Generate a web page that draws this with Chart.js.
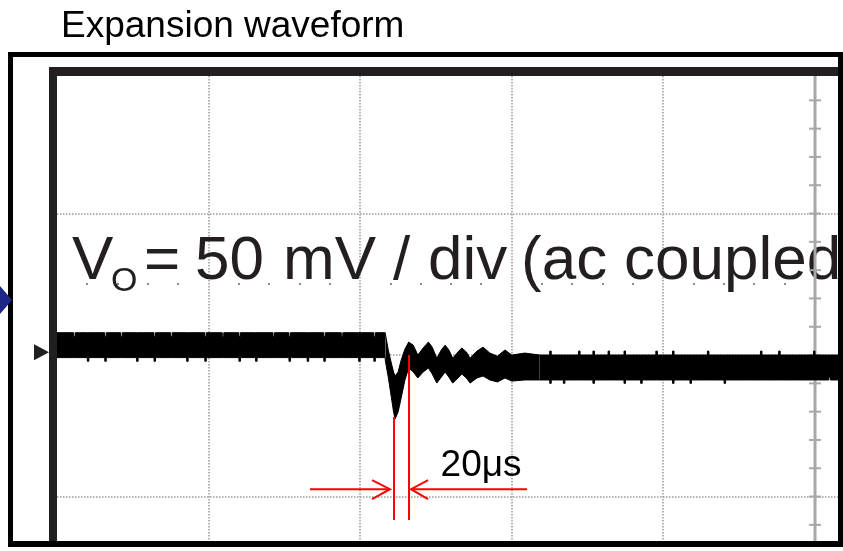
<!DOCTYPE html>
<html><head><meta charset="utf-8">
<script src="https://cdn.jsdelivr.net/npm/chart.js@4.4.1/dist/chart.umd.min.js"></script>
<style>html,body{margin:0;padding:0;background:#fff;overflow:hidden}canvas{display:block}</style>
</head><body>
<canvas id="c" width="843" height="551"></canvas>
<script>
// ---- Data (time in µs, voltage in mV, 200 µs/div, 50 mV/div) ----
const titleText = 'Expansion waveform';
const scaleText = ['V', 'O', '= 50 mV / div (ac coupled'];
const spanLabel = '20μs';

// pre-transient noise band
const leftTimes = [0, 22, 24, 40, 42, 63, 65, 84, 86, 105, 107, 128, 130, 150, 152, 171, 173, 195, 197, 218, 220, 240, 242, 262, 264, 285, 287, 306, 308, 330, 332, 352, 354, 375, 377, 398, 400, 418, 420, 433];
const leftUpper = [7.9, 6.6, 7.9, 7.9, 7.9, 6.6, 7.9, 6.6, 7.9, 7.9, 7.9, 6.6, 7.9, 6.6, 7.9, 7.9, 7.9, 6.6, 7.9, 6.6, 7.9, 6.6, 7.9, 7.9, 7.9, 6.6, 7.9, 6.6, 7.9, 7.9, 7.9, 6.6, 7.9, 6.6, 7.9, 7.9, 7.9, 6.6, 7.9, 7.8];
const leftLower = [-0.9, -0.9, -0.9, -2.2, -0.9, -2.2, -0.9, -0.9, -0.9, -2.2, -0.9, -2.2, -0.9, -0.9, -0.9, -2.2, -0.9, -2.2, -0.9, -0.9, -0.9, -2.2, -0.9, -2.2, -0.9, -0.9, -0.9, -2.2, -0.9, -2.2, -0.9, -2.2, -0.9, -0.9, -0.9, -2.2, -0.9, -2.2, -0.9, -1.8];

// transient dip and ringing
const transTimes = [433, 437, 441, 444, 446, 450, 454, 459, 464, 470, 476, 483, 490, 495, 501, 507, 512, 517, 522, 529, 534, 540, 545, 554, 562, 571, 581, 591, 600, 617, 637];
const transUpper = [7.8, 1.8, -2.8, -6.0, -7.4, -6.0, -1.8, 2.1, 4.6, 3.5, 0, 2.5, 4.6, 2.8, -1.1, 1.8, 3.5, 1.8, -1.1, 1.1, 2.5, 1.1, -1.1, 1.4, 2.8, 0.7, -0.4, 1.8, 0, 0.7, 0];
const transLower = [-1.8, -7.8, -14.8, -20.1, -22.6, -20.1, -15.2, -8.8, -4.6, -6.0, -8.1, -6.0, -4.6, -6.7, -9.9, -7.8, -6.0, -7.8, -9.9, -8.1, -6.7, -8.1, -9.9, -8.1, -7.4, -8.8, -9.5, -8.1, -9.2, -8.8, -8.8];

// post-transient noise band
const rightTimes = [637, 650, 652, 668, 670, 688, 690, 707, 709, 727, 729, 748, 750, 770, 772, 790, 792, 812, 814, 835, 837, 858, 860, 880, 882, 905, 907, 928, 930, 952, 954, 975, 977, 998, 1000, 1018, 1020, 1031];
const rightUpper = [0, 1.4, 0, 0, 0, 1.4, 0, 1.4, 0, 1.4, 0, 1.4, 0, 0, 0, 1.4, 0, 1.4, 0, 0, 0, 1.4, 0, 0, 0, 0, 0, 1.4, 0, 1.4, 0, 0, 0, 1.4, 0, 0, 0, 0];
const rightLower = [-8.8, -10.0, -8.8, -10.0, -8.8, -8.8, -8.8, -10.0, -8.8, -8.8, -8.8, -10.0, -8.8, -10.0, -8.8, -8.8, -8.8, -10.0, -8.8, -10.0, -8.8, -8.8, -8.8, -10.0, -8.8, -8.8, -8.8, -8.8, -8.8, -8.8, -8.8, -8.8, -8.8, -8.8, -8.8, -7.8, -8.8, -8.8];

// 20 µs measurement markers (µs, mV)
const markerA = [{x: 444.6, y: -21.9}, {x: 444.6, y: -58.3}];
const markerB = [{x: 464.4, y: 0}, {x: 464.4, y: -58.3}];
const arrowLeft = [{x: 333.8, y: -47.4}, {x: 439.3, y: -47.4}];
const arrowLeftHead = [{x: 415.6, y: -44.2}, {x: 439.3, y: -47.4}, {x: 415.6, y: -50.9}];
const arrowRight = [{x: 620.1, y: -47.4}, {x: 467.0, y: -47.4}];
const arrowRightHead = [{x: 489.5, y: -44.2}, {x: 467.0, y: -47.4}, {x: 489.5, y: -50.9}];
const spanLabelPos = {x: 506, y: -42.8};

// screen divisions
const timeMin = 0, timeMax = 1030.3, timeDiv = 200;
const voltMin = -65.7, voltMax = 98.6, voltDiv = 50;
const gridTimes = [200, 400, 600, 800];
const gridVolts = [-50, 0, 50];
const centerTime = 1000, minorVolt = 10, dotLevel = 25, dotStep = 40, triggerLevel = 1.0;

// ---- build ----
const pts = (t, v) => t.map((x, i) => ({x, y: v[i]}));
const onStep = (v, step) => Math.abs(v / step - Math.round(v / step)) < 1e-6;
const band = (label, data, fill, stepped) => ({
  label, data, fill, stepped, borderColor: '#000', backgroundColor: '#000',
  borderWidth: 1, pointRadius: 0, tension: 0, order: 1
});
const red = (label, data) => ({
  label, data, fill: false, borderColor: '#ff0000', borderWidth: 2,
  pointRadius: 0, tension: 0, order: 0, borderCapStyle: 'butt', borderJoinStyle: 'miter'
});

const FONT = '"Liberation Sans", Arial, Helvetica, sans-serif';

const decor = {
  id: 'decor',
  beforeDraw(chart) {
    const c = chart.ctx;
    c.save(); c.fillStyle = '#fff'; c.fillRect(0, 0, chart.width, chart.height); c.restore();
  },
  beforeDatasetsDraw(chart) {
    const c = chart.ctx, xs = chart.scales.x, ys = chart.scales.y, a = chart.chartArea;
    c.save();
    // dotted division grid
    c.strokeStyle = '#999999';
    c.lineWidth = 1.5;
    c.setLineDash([1.5, 1.5]);
    gridTimes.forEach(t => {
      const xp = Math.round(xs.getPixelForValue(t));
      c.beginPath(); c.moveTo(xp, a.top); c.lineTo(xp, a.bottom); c.stroke();
    });
    gridVolts.forEach(v => {
      const yp = Math.round(ys.getPixelForValue(v));
      c.beginPath(); c.moveTo(a.left, yp); c.lineTo(a.right, yp); c.stroke();
    });
    c.setLineDash([]);
    // sparse minor dots on the half-division line
    c.fillStyle = '#8c8c8c';
    const yd = ys.getPixelForValue(dotLevel);
    for (let t = dotStep; t < timeMax; t += dotStep) {
      if (onStep(t, timeDiv)) continue;
      const xp = xs.getPixelForValue(t);
      c.fillRect(Math.round(xp) - 1, Math.round(yd) - 1, 2, 2);
    }
    // big scale text
    c.fillStyle = '#231f20';
    c.textBaseline = 'alphabetic';
    c.font = '62px ' + FONT;
    c.fillText(scaleText[0], 72, 279);
    c.font = '34px ' + FONT;
    c.fillText(scaleText[1], 111, 291);
    c.font = '62px ' + FONT;
    const words = scaleText[2].split(' ').filter(w => w);
    const xPos = [144, 195, 283, 393, 428, 521, 624];
    words.forEach((w, i) => c.fillText(w, xPos[i], 279));
    // centre vertical axis with minor ticks
    const xc = xs.getPixelForValue(centerTime);
    c.strokeStyle = '#a8a8a8';
    c.lineWidth = 3;
    c.beginPath(); c.moveTo(xc, a.top); c.lineTo(xc, a.bottom); c.stroke();
    c.lineWidth = 2;
    for (let v = Math.ceil(voltMin / minorVolt) * minorVolt; v <= voltMax; v += minorVolt) {
      const yp = ys.getPixelForValue(v);
      c.beginPath(); c.moveTo(xc - 6, yp); c.lineTo(xc + 6, yp); c.stroke();
    }
    c.restore();
  },
  afterDatasetsDraw(chart) {
    const c = chart.ctx, xs = chart.scales.x, ys = chart.scales.y;
    c.save();
    c.fillStyle = '#000';
    c.font = '37px ' + FONT;
    c.textBaseline = 'alphabetic';
    c.fillText(spanLabel, xs.getPixelForValue(spanLabelPos.x), ys.getPixelForValue(spanLabelPos.y));
    c.restore();
  },
  afterDraw(chart) {
    const c = chart.ctx, a = chart.chartArea, ys = chart.scales.y;
    c.save();
    // inner thick frame
    c.fillStyle = '#231f20';
    c.fillRect(a.left - 8, a.top - 9, 8, a.bottom - a.top + 9);
    c.fillRect(a.left - 8, a.top - 9, a.right - a.left + 8, 9);
    // outer frame
    c.fillStyle = '#000';
    c.fillRect(8, 52, 843 - 8, 5);
    c.fillRect(8, 52, 5, 547 - 52);
    c.fillRect(8, 541, 843 - 8, 6);
    c.fillRect(838, 52, 5, 547 - 52);
    // trigger level marker
    const yt = ys.getPixelForValue(triggerLevel);
    c.fillStyle = '#231f20';
    c.beginPath(); c.moveTo(a.left - 8, yt); c.lineTo(a.left - 23, yt - 8); c.lineTo(a.left - 23, yt + 8); c.closePath(); c.fill();
    // blue pointer tip at left
    c.fillStyle = '#1c2787';
    c.beginPath(); c.moveTo(0, 286); c.lineTo(12, 300); c.lineTo(0, 314); c.closePath(); c.fill();
    // title
    c.fillStyle = '#000';
    c.font = '37px ' + FONT;
    c.textBaseline = 'alphabetic';
    c.fillText(titleText, 61, 37);
    c.restore();
  }
};

new Chart(document.getElementById('c'), {
  type: 'line',
  data: {
    datasets: [
      band('left upper', pts(leftTimes, leftUpper), false, true),
      band('left lower', pts(leftTimes, leftLower), '-1', true),
      band('transient upper', pts(transTimes, transUpper), false, false),
      band('transient lower', pts(transTimes, transLower), '-1', false),
      band('right upper', pts(rightTimes, rightUpper), false, true),
      band('right lower', pts(rightTimes, rightLower), '-1', true),
      red('marker A', markerA),
      red('marker B', markerB),
      red('arrow left', arrowLeft),
      red('arrow left head', arrowLeftHead),
      red('arrow right', arrowRight),
      red('arrow right head', arrowRightHead)
    ]
  },
  options: {
    responsive: false,
    animation: false,
    devicePixelRatio: 1,
    layout: {padding: {left: 57, top: 76, right: 5, bottom: 10}},
    plugins: {legend: {display: false}, tooltip: {enabled: false}},
    scales: {
      x: {
        type: 'linear', min: timeMin, max: timeMax,
        ticks: {display: false, stepSize: timeDiv},
        grid: {display: false, drawTicks: false},
        border: {display: false}
      },
      y: {
        type: 'linear', min: voltMin, max: voltMax,
        ticks: {display: false, stepSize: voltDiv},
        grid: {display: false, drawTicks: false},
        border: {display: false}
      }
    }
  },
  plugins: [decor]
});
</script>
</body></html>
